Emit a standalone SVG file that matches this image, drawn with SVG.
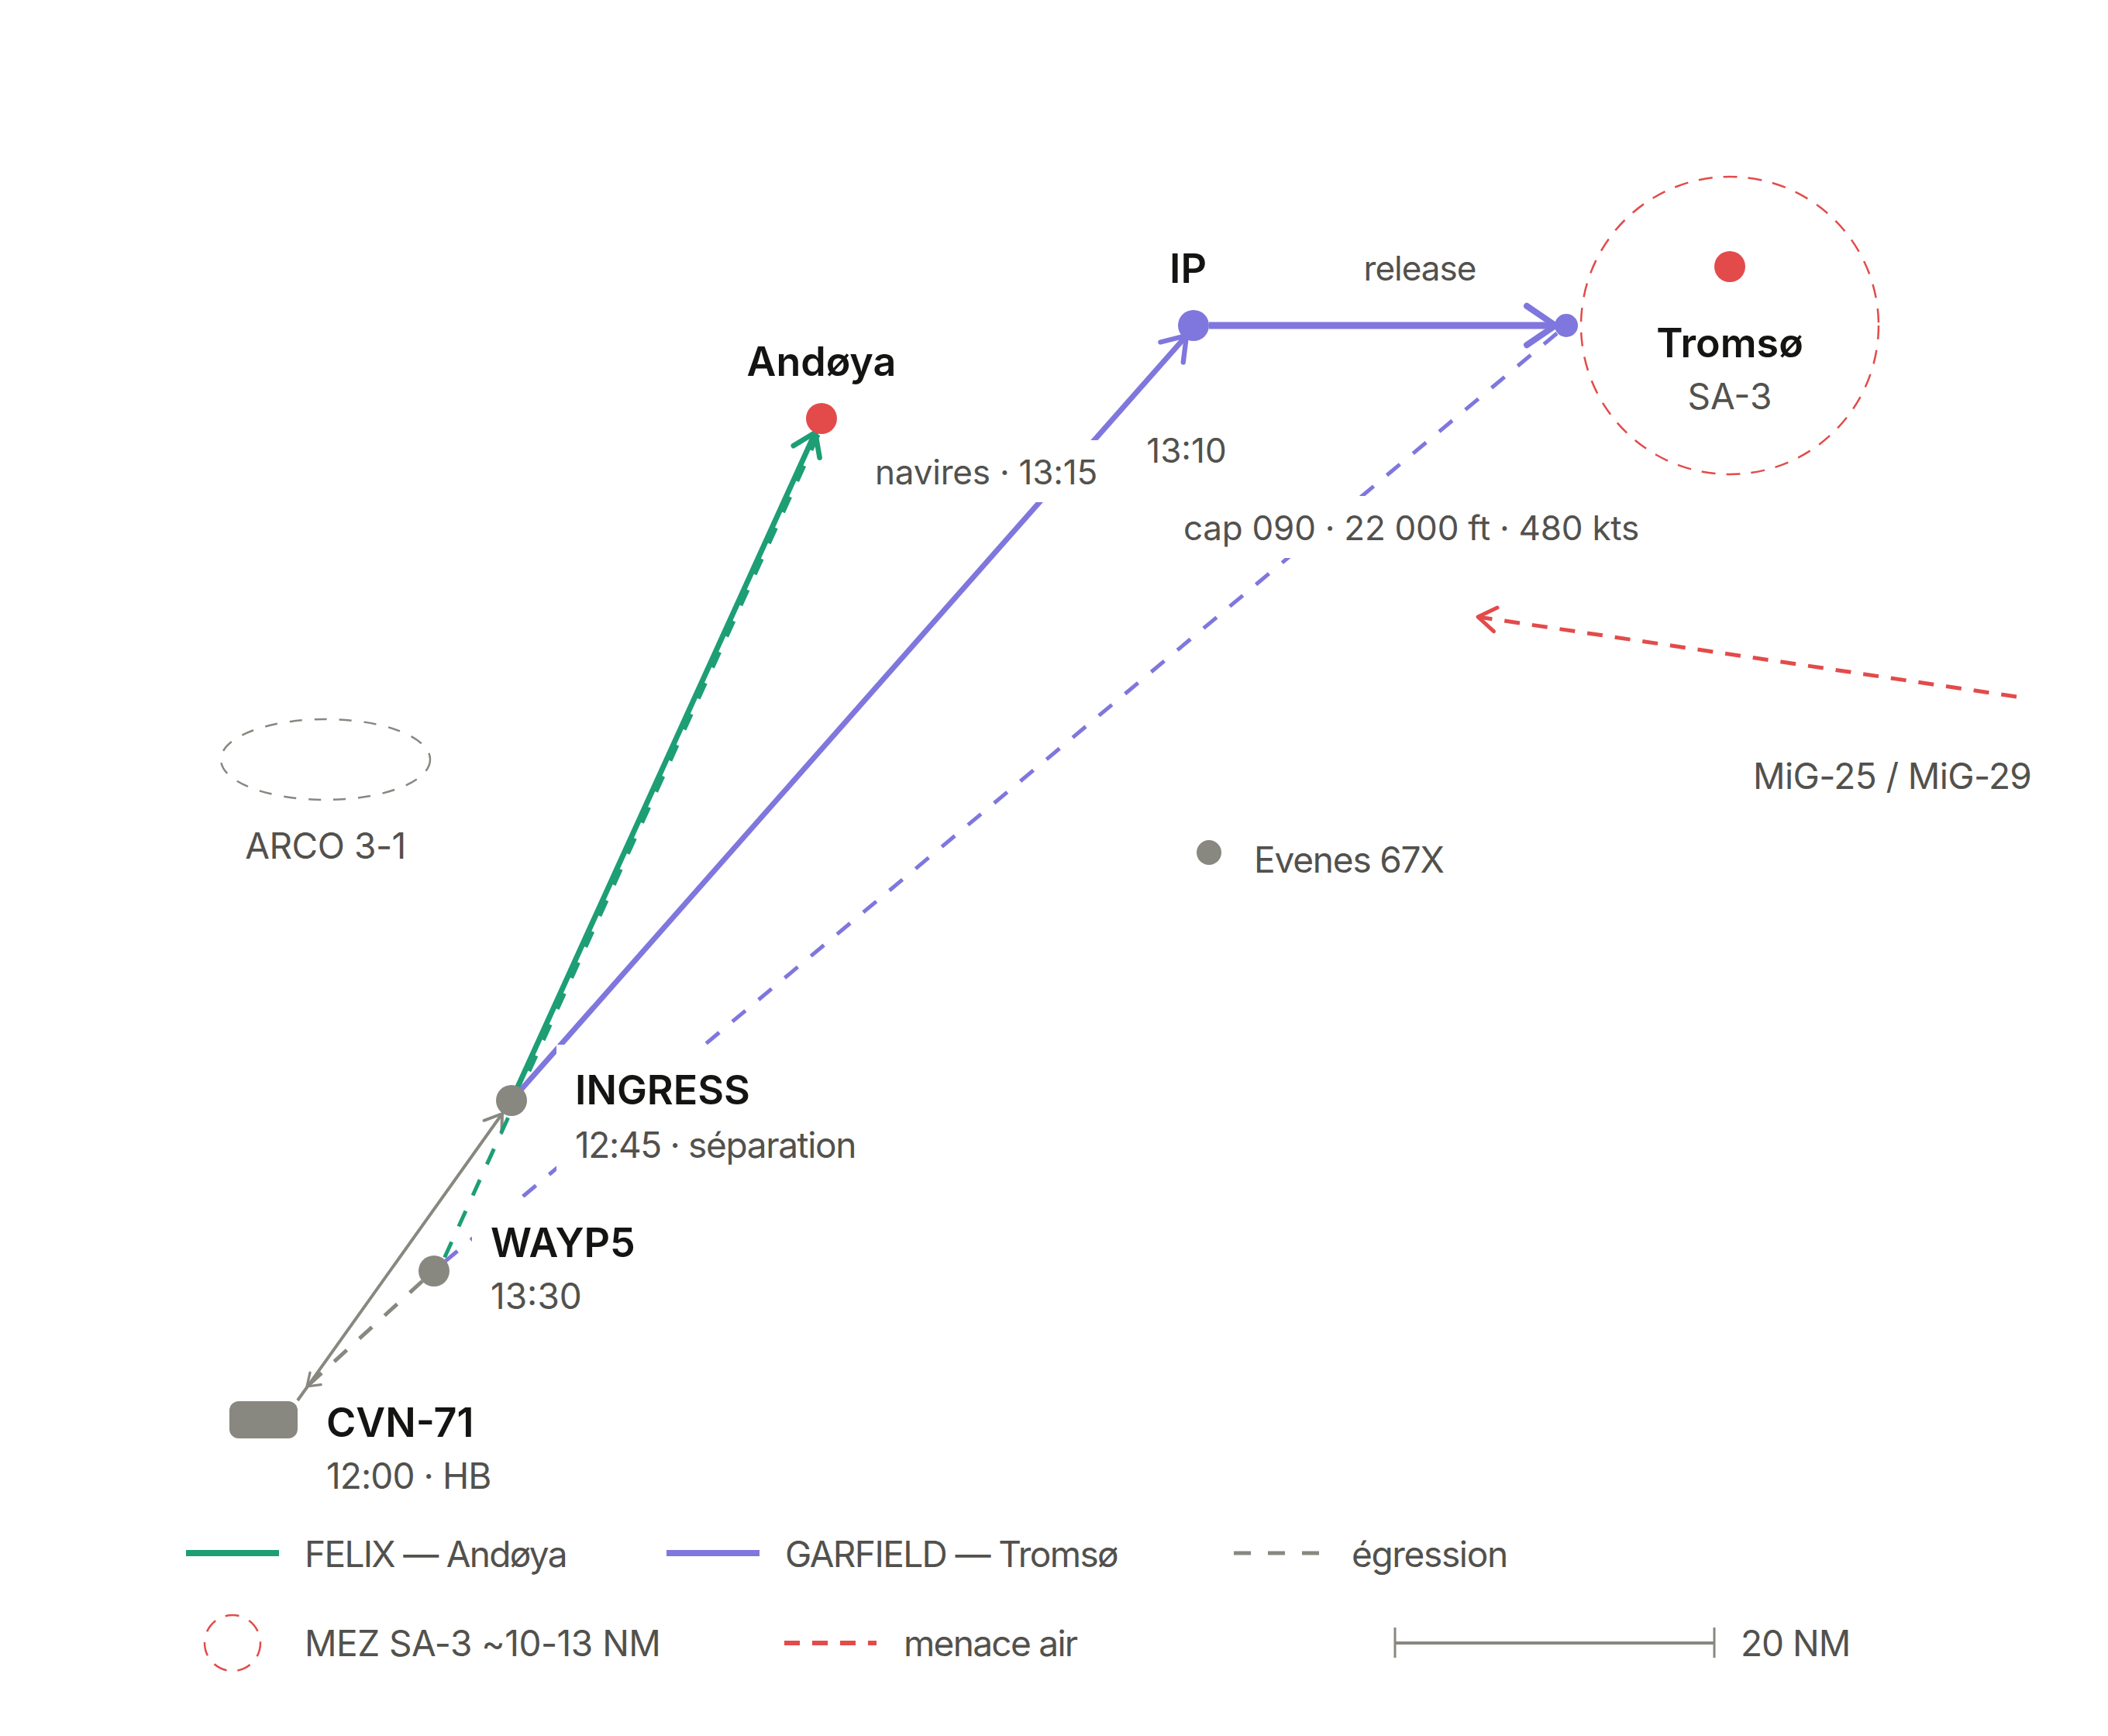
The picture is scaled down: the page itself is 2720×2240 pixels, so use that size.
<svg xmlns="http://www.w3.org/2000/svg" width="2720" height="2240" viewBox="0 0 2720 2240">
<style>
text{font-family:Inter,"Noto Sans","Liberation Sans",sans-serif;}
.b{font-size:52px;font-weight:600;fill:#141413;}
.r{font-size:46px;font-weight:400;fill:#52514d;}
.e{font-size:44px;font-weight:400;fill:#52514d;}
.mid{text-anchor:middle;}
.bg{fill:#ffffff;}
.ln{fill:none;stroke-linecap:butt;}
.gr{stroke:#1d9e75;}
.pu{stroke:#7f77dd;}
.gy{stroke:#888780;}
.rd{stroke:#e24b4a;}
.dash{stroke-dasharray:22 22;}
.rdash{stroke-dasharray:20 16;}
.zone{fill:none;stroke-width:2.5;stroke-dasharray:18 14;}
</style>
<defs>
<marker id="aGreen" viewBox="-6 -4 7 8" refX="0" refY="0" markerWidth="7" markerHeight="8" orient="auto" markerUnits="strokeWidth" overflow="visible"><path d="M-3.9,-2.65 L0,0 L-3.9,2.65" fill="none" stroke="#1d9e75" stroke-width="0.95" stroke-linecap="round" stroke-linejoin="round"/></marker>
<marker id="aPurple" viewBox="-6 -4 7 8" refX="0" refY="0" markerWidth="7" markerHeight="8" orient="auto" markerUnits="strokeWidth" overflow="visible"><path d="M-4.1,-2.8 L0,0 L-4.1,2.8" fill="none" stroke="#7f77dd" stroke-width="0.9" stroke-linecap="round" stroke-linejoin="round"/></marker>
<marker id="aGray" viewBox="-7 -5 8 10" refX="0" refY="0" markerWidth="8" markerHeight="10" orient="auto" markerUnits="strokeWidth" overflow="visible"><path d="M-5.2,-3.5 L0,0 L-5.2,3.5" fill="none" stroke="#888780" stroke-width="1" stroke-linecap="round" stroke-linejoin="round"/></marker>
<marker id="aGrayD" viewBox="-6 -4 7 8" refX="0" refY="0" markerWidth="7" markerHeight="8" orient="auto" markerUnits="strokeWidth" overflow="visible"><path d="M-3.0,-2.1 L0,0 L-3.0,2.1" fill="none" stroke="#888780" stroke-width="0.65" stroke-linecap="round" stroke-linejoin="round"/></marker>
<marker id="aRed" viewBox="-6 -4 7 8" refX="0" refY="0" markerWidth="7" markerHeight="8" orient="auto" markerUnits="strokeWidth" overflow="visible"><path d="M-4.6,-3.1 L0,0 L-4.6,3.1" fill="none" stroke="#e24b4a" stroke-width="1" stroke-linecap="round" stroke-linejoin="round"/></marker>
</defs>
<rect x="0" y="0" width="2720" height="2240" fill="#ffffff"/>

<g id="zones">
<ellipse id="arco-zone" cx="420" cy="980" rx="135" ry="52" fill="none" stroke="#888780" stroke-width="2.5" stroke-dasharray="16 16"/>
<circle id="mez-tromso" cx="2232" cy="420" r="192" class="zone rd"/>
</g>

<g id="connectors">
<path class="ln gy" stroke-width="4" d="M384,1807 L648,1437" marker-end="url(#aGray)"/>
<path class="ln gr" stroke-width="7" d="M660,1420 L1052,558" marker-end="url(#aGreen)"/>
<path class="ln gr dash" stroke-width="5" d="M1056,561 L573,1624"/>
<path class="ln pu" stroke-width="7" d="M660,1420 L1531,433" marker-end="url(#aPurple)"/>
<path class="ln pu" stroke-width="9" d="M1560,420 L2007,420" marker-end="url(#aPurple)"/>
<path class="ln pu dash" stroke-width="5" d="M2009,430 L575,1627"/>
<path class="ln gy dash" stroke-width="5" d="M545,1653 L396,1789" marker-end="url(#aGrayD)"/>
<path class="ln rd rdash" stroke-width="5" d="M2602,899 L1907,796" marker-end="url(#aRed)"/>
</g>

<g id="edge-labels">
<rect class="bg" x="1115" y="568" width="311" height="80"/>
<text class="e" x="1129" y="625" letter-spacing="-0.2">navires · 13:15</text>
<text class="e mid" x="1531" y="597">13:10</text>
<text class="e mid" x="1832" y="362" letter-spacing="-1">release</text>
<rect class="bg" x="1512" y="640" width="614" height="80"/>
<text class="e" x="1527" y="697" letter-spacing="-0.25">cap 090 · 22 000 ft · 480 kts</text>
<text class="r" x="2262" y="1018" letter-spacing="-0.6">MiG-25 / MiG-29</text>
</g>

<g id="node-cvn71">
<rect x="296" y="1808" width="88" height="48" rx="12" fill="#888780"/>
<text class="b" x="421" y="1854">CVN-71</text>
<text class="r" x="421" y="1921" letter-spacing="-0.9">12:00 · HB</text>
</g>

<g id="node-wayp5">
<circle cx="560" cy="1640" r="20" fill="#888780"/>
<rect class="bg" x="609" y="1545" width="200" height="167"/>
<text class="b" x="633" y="1622">WAYP5</text>
<text class="r" x="633" y="1689">13:30</text>
</g>

<g id="node-ingress">
<circle cx="660" cy="1420" r="20" fill="#888780"/>
<rect class="bg" x="718" y="1348" width="408" height="169"/>
<text class="b" x="742" y="1425">INGRESS</text>
<text class="r" x="742" y="1494" letter-spacing="-1.35">12:45 · séparation</text>
</g>

<g id="node-andoya">
<circle cx="1060" cy="540" r="20" fill="#e24b4a"/>
<text class="b mid" x="1060" y="485">Andøya</text>
</g>

<g id="node-ip">
<circle cx="1540" cy="420" r="20" fill="#7f77dd"/>
<text class="b mid" x="1533" y="365">IP</text>
</g>

<g id="node-release">
<circle cx="2021" cy="420" r="15" fill="#7f77dd"/>
</g>

<g id="node-tromso">
<circle cx="2232" cy="344" r="20" fill="#e24b4a"/>
<text class="b mid" x="2232" y="461">Tromsø</text>
<text class="r mid" x="2232" y="528">SA-3</text>
</g>

<g id="node-evenes">
<circle cx="1560" cy="1100" r="16" fill="#888780"/>
<text class="r" x="1618" y="1126" letter-spacing="-1.2">Evenes 67X</text>
</g>

<g id="node-arco">
<text class="r mid" x="420" y="1108" letter-spacing="-0.45">ARCO 3-1</text>
</g>

<g id="legend">
<line x1="240" y1="2004" x2="360" y2="2004" stroke="#1d9e75" stroke-width="8"/>
<text class="r" x="393" y="2022" letter-spacing="-1.7">FELIX — Andøya</text>
<line x1="860" y1="2004" x2="980" y2="2004" stroke="#7f77dd" stroke-width="8"/>
<text class="r" x="1013" y="2022" letter-spacing="-1.6">GARFIELD — Tromsø</text>
<line x1="1592" y1="2004" x2="1704" y2="2004" stroke="#888780" stroke-width="5" stroke-dasharray="22 22"/>
<text class="r" x="1744" y="2022" letter-spacing="-1.35">égression</text>
<circle cx="300" cy="2120" r="36" class="zone rd"/>
<text class="r" x="393" y="2137" letter-spacing="-0.5">MEZ SA-3 ~10-13 NM</text>
<line x1="1012" y1="2120" x2="1131" y2="2120" stroke="#e24b4a" stroke-width="6" stroke-dasharray="20 16"/>
<text class="r" x="1166" y="2137" letter-spacing="-1.7">menace air</text>
<g id="scale-bar" stroke="#888780">
<line x1="1800" y1="2120" x2="2212" y2="2120" stroke-width="4"/>
<line x1="1800" y1="2100" x2="1800" y2="2139" stroke-width="3"/>
<line x1="2212" y1="2100" x2="2212" y2="2139" stroke-width="3"/>
</g>
<text class="r" x="2246" y="2137" letter-spacing="-1">20 NM</text>
</g>
</svg>
